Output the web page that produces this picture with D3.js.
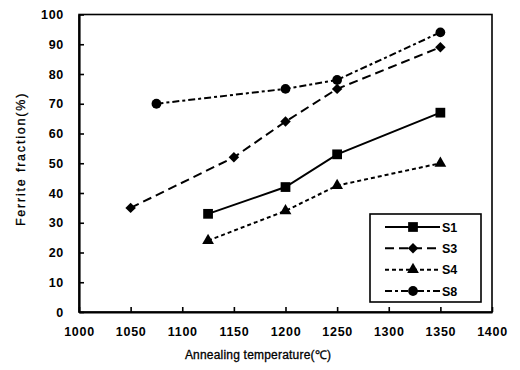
<!DOCTYPE html>
<html>
<head>
<meta charset="utf-8">
<script src="https://cdn.jsdelivr.net/npm/d3@7"></script>
<style>
  html, body { margin: 0; padding: 0; background: #fff; }
  svg { display: block; }
  text { font-family: "Liberation Sans", Arial, sans-serif; fill: #000; }
</style>
</head>
<body>
<svg id="chart" width="520" height="370"></svg>
<script>
// Annealing temperatures (°C) and ferrite fractions (%) for each steel
const s1Temps = [1125, 1200, 1250, 1350];
const s1Values = [33, 42, 53, 67];
const s3Temps = [1050, 1150, 1200, 1250, 1350];
const s3Values = [35, 52, 64, 75, 89];
const s4Temps = [1125, 1200, 1250, 1350];
const s4Values = [24, 34, 42.5, 50];
const s8Temps = [1075, 1200, 1250, 1350];
const s8Values = [70, 75, 78, 94];

const seriesNames = ["S1", "S3", "S4", "S8"];
const xTicks = [1000, 1050, 1100, 1150, 1200, 1250, 1300, 1350, 1400];
const yTicks = [0, 10, 20, 30, 40, 50, 60, 70, 80, 90, 100];

// Square marker turned 45° for the diamond
const series = [
  { name: seriesNames[0], temps: s1Temps, values: s1Values, symbol: d3.symbolSquare, size: 95, rot: 0, dash: null },
  { name: seriesNames[1], temps: s3Temps, values: s3Values, symbol: d3.symbolSquare, size: 55, rot: 45, dash: "9,5" },
  { name: seriesNames[2], temps: s4Temps, values: s4Values, symbol: d3.symbolTriangle, size: 60, rot: 0, dash: "4,3" },
  { name: seriesNames[3], temps: s8Temps, values: s8Values, symbol: d3.symbolCircle, size: 75, rot: 0, dash: "7,3,3,3" }
];

const svg = d3.select("#chart");
const plotLeft = 79, plotRight = 492, plotTop = 14.5, plotBottom = 312;

const x = d3.scaleLinear().domain([1000, 1400]).range([plotLeft, plotRight]);
const y = d3.scaleLinear().domain([0, 100]).range([plotBottom, plotTop]);

// Frame
svg.append("rect")
  .attr("x", plotLeft).attr("y", plotTop)
  .attr("width", plotRight - plotLeft).attr("height", plotBottom - plotTop)
  .attr("fill", "none").attr("stroke", "#000").attr("stroke-width", 1.6);

// Axes with inward ticks
const xAxis = svg.append("g")
  .attr("transform", `translate(0,${plotBottom})`)
  .call(d3.axisBottom(x).tickValues(xTicks).tickSizeInner(-5).tickSizeOuter(0).tickPadding(15).tickFormat(d3.format("d")));
const yAxis = svg.append("g")
  .attr("transform", `translate(${plotLeft},0)`)
  .call(d3.axisLeft(y).tickValues(yTicks).tickSizeInner(-5).tickSizeOuter(0).tickPadding(15).tickFormat(d3.format("d")));

[xAxis, yAxis].forEach(g => {
  g.select(".domain").attr("stroke", "#000").attr("stroke-width", 2.2);
  g.selectAll(".tick line").attr("stroke", "#000").attr("stroke-width", 1.6);
  g.selectAll(".tick text")
    .style("font-family", "'Liberation Sans', Arial, sans-serif")
    .style("font-size", "12.5px").style("font-weight", "bold")
    .style("letter-spacing", "0.7px").attr("fill", "#000");
});
xAxis.selectAll(".tick text").attr("dy", "0.71em");

// Axis titles
svg.append("text")
  .attr("x", 258).attr("y", 359)
  .attr("text-anchor", "middle")
  .style("font-size", "12px").style("letter-spacing", "0.2px")
  .attr("stroke", "#000").attr("stroke-width", 0.3)
  .text("Annealing temperature(℃)");

svg.append("text")
  .attr("transform", "translate(25,159) rotate(-90)")
  .attr("text-anchor", "middle")
  .style("font-size", "12.5px").style("letter-spacing", "1.8px")
  .attr("stroke", "#000").attr("stroke-width", 0.3)
  .text("Ferrite fraction(%)");

// Series lines and markers
const line = d3.line().x(d => x(d[0])).y(d => y(d[1]));

series.forEach(s => {
  const pts = s.temps.map((t, i) => [t, s.values[i]]);
  svg.append("path")
    .datum(pts)
    .attr("d", line)
    .attr("fill", "none").attr("stroke", "#000").attr("stroke-width", 2)
    .attr("stroke-dasharray", s.dash);
  svg.append("g").selectAll("path")
    .data(pts).join("path")
    .attr("transform", d => `translate(${x(d[0])},${y(d[1])}) rotate(${s.rot})`)
    .attr("d", d3.symbol().type(s.symbol).size(s.size))
    .attr("fill", "#000");
});

// Legend
const lg = svg.append("g");
lg.append("rect")
  .attr("x", 370).attr("y", 214).attr("width", 111).attr("height", 88)
  .attr("fill", "#fff").attr("stroke", "#000").attr("stroke-width", 1.6);
const rowY = d3.scalePoint().domain(seriesNames).range([227, 291]);
series.forEach(s => {
  const ry = rowY(s.name);
  lg.append("line")
    .attr("x1", 385).attr("x2", 440).attr("y1", ry).attr("y2", ry)
    .attr("stroke", "#000").attr("stroke-width", 2)
    .attr("stroke-dasharray", s.dash);
  lg.append("path")
    .attr("transform", `translate(413,${ry}) rotate(${s.rot})`)
    .attr("d", d3.symbol().type(s.symbol).size(s.size))
    .attr("fill", "#000");
  lg.append("text")
    .attr("x", 442).attr("y", ry).attr("dy", "0.36em")
    .style("font-size", "12.5px").style("font-weight", "bold")
    .text(s.name);
});
</script>
</body>
</html>
